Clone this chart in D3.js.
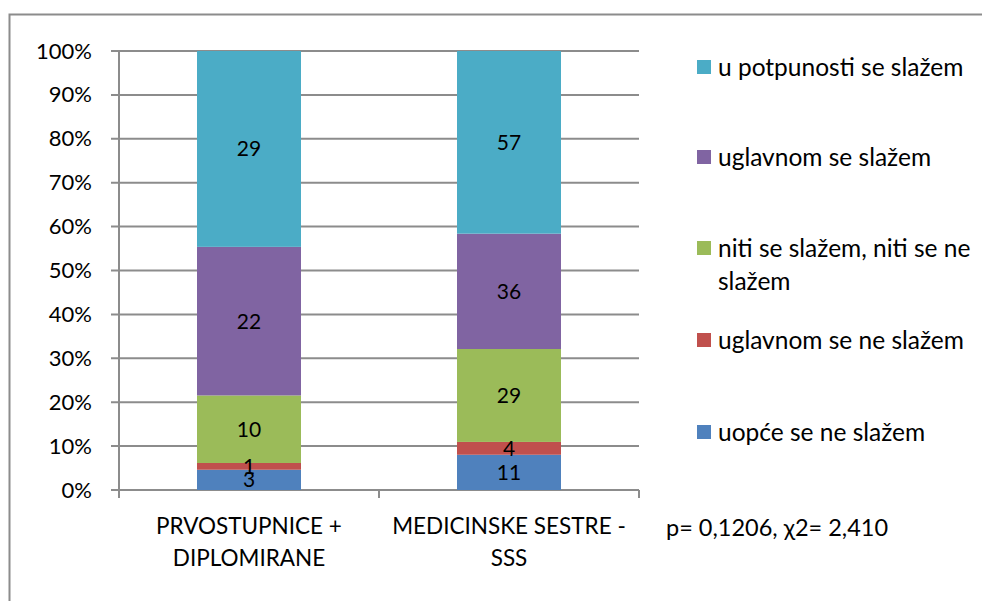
<!DOCTYPE html>
<html>
<head>
<meta charset="utf-8">
<script src="https://cdn.jsdelivr.net/npm/d3@7"></script>
<style>
  body { margin: 0; background: #fff; }
  text { font-family: Lato, "Open Sans", sans-serif; fill: #000; }
</style>
</head>
<body>
<script>
// data
let categories = [['PRVOSTUPNICE +', 'DIPLOMIRANE'], ['MEDICINSKE SESTRE -', 'SSS']]
let seriesNames = ['uopće se ne slažem', 'uglavnom se ne slažem', 'niti se slažem, niti se ne slažem', 'uglavnom se slažem', 'u potpunosti se slažem']
let counts1 = [3, 1, 10, 22, 29]
let counts2 = [11, 4, 29, 36, 57]
let colors = ['#4F81BD', '#C0504D', '#9BBB59', '#8064A2', '#4BACC6']
let yTicks = [0, 0.1, 0.2, 0.3, 0.4, 0.5, 0.6, 0.7, 0.8, 0.9, 1]
let statText = 'p= 0,1206, χ2= 2,410'

let width = 982
let height = 601

let svg = d3.select('body').append('svg').attr('width', width).attr('height', height)

// outer chart frame (runs off the right and bottom)
svg.append('rect')
   .attr('x', 9.5).attr('y', 14.5)
   .attr('width', 1000).attr('height', 620)
   .attr('fill', 'none').attr('stroke', '#8c8c8c').attr('stroke-width', 2)

let plotLeft = 119, plotRight = 639, plotTop = 51, plotBottom = 490

let xScale = d3.scaleBand().domain([0, 1]).range([plotLeft, plotRight]).paddingInner(0.6).paddingOuter(0.3)
let yScale = d3.scaleLinear().domain([0, 1]).range([plotBottom, plotTop])

// gridlines
svg.append('g')
   .selectAll('line')
   .data(yTicks)
   .enter()
   .append('line')
   .attr('x1', plotLeft - 8).attr('x2', plotRight)
   .attr('y1', d => yScale(d)).attr('y2', d => yScale(d))
   .attr('stroke', '#8c8c8c').attr('stroke-width', 2)

// y axis
let yAxis = d3.axisLeft(yScale).tickValues(yTicks).tickFormat(d3.format('.0%')).tickSize(0).tickPadding(27)
let yg = svg.append('g').attr('transform', 'translate(' + plotLeft + ',0)').call(yAxis)
yg.select('.domain').remove()
yg.selectAll('text').style('font-size', '22px').attr('fill', '#000')
svg.append('line').attr('x1', plotLeft).attr('x2', plotLeft).attr('y1', plotTop).attr('y2', plotBottom + 8)
   .attr('stroke', '#8c8c8c').attr('stroke-width', 2)

// x axis ticks
let xTicks = [plotLeft, (plotLeft + plotRight) / 2, plotRight]
svg.append('g')
   .selectAll('line')
   .data(xTicks)
   .enter()
   .append('line')
   .attr('x1', d => d).attr('x2', d => d)
   .attr('y1', plotBottom).attr('y2', plotBottom + 8)
   .attr('stroke', '#8c8c8c').attr('stroke-width', 2)

// stacked bars
let data = [counts1, counts2]
data.forEach((vals, ci) => {
    let total = d3.sum(vals)
    let cum = 0
    let g = svg.append('g')
    vals.forEach((v, si) => {
        let y0 = cum / total
        let y1 = (cum + v) / total
        cum += v
        g.append('rect')
         .attr('x', xScale(ci))
         .attr('width', xScale.bandwidth())
         .attr('y', yScale(y1))
         .attr('height', yScale(y0) - yScale(y1))
         .attr('fill', colors[si])
    })
    cum = 0
    vals.forEach((v, si) => {
        let y0 = cum / total
        let y1 = (cum + v) / total
        cum += v
        g.append('text')
         .attr('x', xScale(ci) + xScale.bandwidth() / 2)
         .attr('y', yScale((y0 + y1) / 2))
         .attr('dy', '0.35em')
         .attr('text-anchor', 'middle')
         .style('font-size', '21px')
         .text(v)
    })
})

// category labels
categories.forEach((lines, ci) => {
    let t = svg.append('text')
               .attr('text-anchor', 'middle')
               .style('font-size', '22.5px')
    lines.forEach((line, li) => {
        t.append('tspan')
         .attr('x', xScale(ci) + xScale.bandwidth() / 2)
         .attr('y', 534 + li * 32)
         .text(line)
    })
})

// legend, top to bottom in reverse series order
let legendY = [67, 157, 248, 340, 432]
let order = [4, 3, 2, 1, 0]
let legendLines = {2: ['niti se slažem, niti se ne', 'slažem']}
order.forEach((si, i) => {
    svg.append('rect')
       .attr('x', 697).attr('y', legendY[i] - 7)
       .attr('width', 14).attr('height', 14)
       .attr('fill', colors[si])
    let lines = legendLines[si] || [seriesNames[si]]
    let t = svg.append('text').style('font-size', '24.5px')
    lines.forEach((line, li) => {
        t.append('tspan')
         .attr('x', 718)
         .attr('y', legendY[i] + li * 33)
         .attr('dy', '0.35em')
         .text(line)
    })
})

svg.append('text')
   .attr('x', 666).attr('y', 536)
   .style('font-size', '23.5px')
   .text(statText)
</script>
</body>
</html>
